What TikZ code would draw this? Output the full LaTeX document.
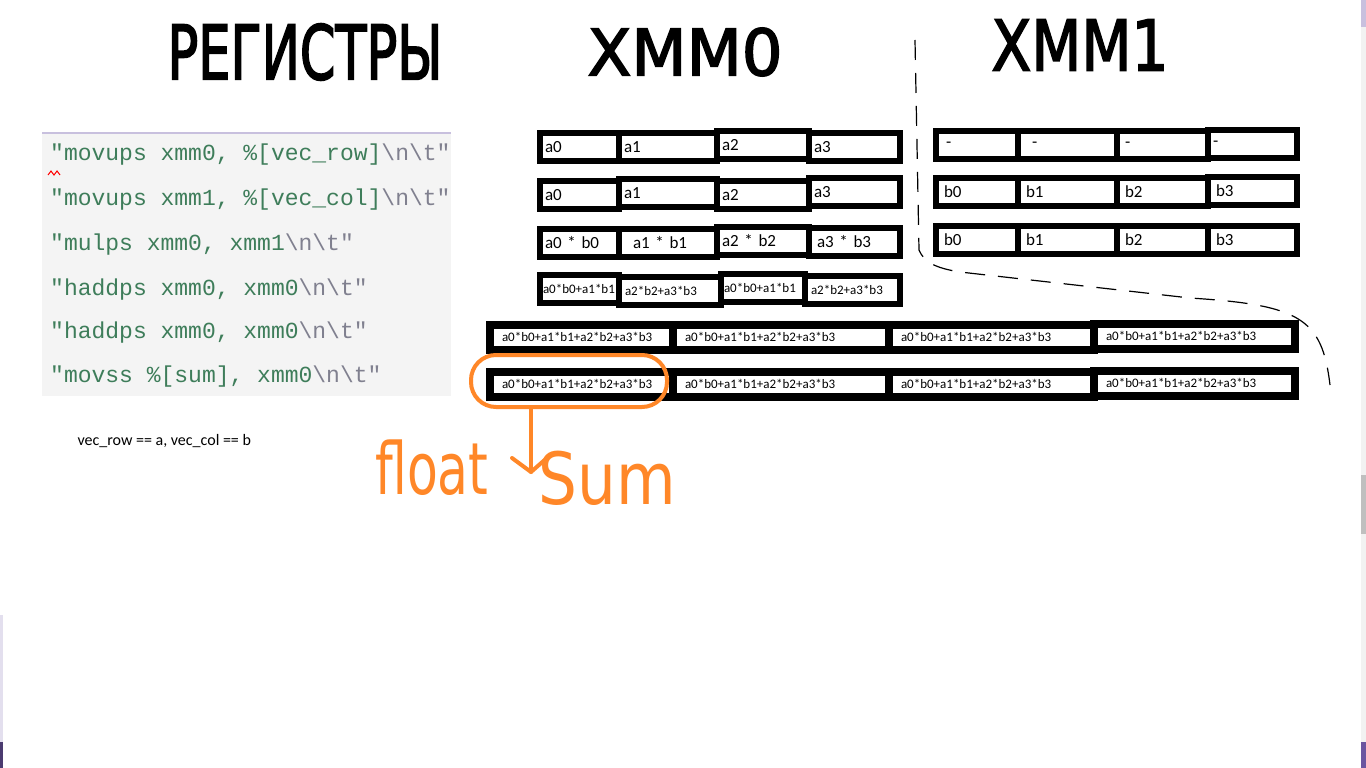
\documentclass[tikz,border=0pt]{standalone}
\usepackage{fontspec}
\usepackage{tikz}
\usetikzlibrary{positioning}

\newfontfamily\handfont{DejaVu Sans}
\newfontfamily\headfont[FakeBold=2.5]{DejaVu Sans}
\newfontfamily\boxfont{Carlito}
\newfontfamily\codefont{Liberation Mono}

\definecolor{codegreen}{RGB}{62,125,90}
\definecolor{codegray}{RGB}{128,128,143}
\definecolor{codebg}{RGB}{244,244,244}
\definecolor{lavline}{RGB}{200,192,222}
\definecolor{markorange}{RGB}{255,135,40}
\definecolor{edgegray}{RGB}{242,242,242}
\definecolor{edgepurple}{RGB}{107,85,160}

\newcommand{\codeend}{\textcolor{codegray}{\textbackslash n\textbackslash t"}}

\tikzset{
  reg/.style={draw, line width=6pt, anchor=west, minimum height=28pt,
    inner xsep=5pt, inner ysep=0pt, text width=#1-10pt, align=left,
    font=\boxfont\fontsize{17}{19}\selectfont},
  smallreg/.style={reg=#1, inner xsep=3pt, text width=#1-6pt,
    font=\boxfont\fontsize{13}{15}\selectfont},
  widereg/.style={reg=#1, line width=8pt, minimum height=25pt,
    inner xsep=12pt, text width=#1-24pt,
    font=\boxfont\fontsize{13}{15}\selectfont},
  head/.style={font=\headfont\fontsize{75}{80}\selectfont},
  codeline/.style={anchor=west, inner sep=0pt, text=codegreen,
    font=\codefont\fontsize{23}{26}\selectfont},
  markline/.style={draw=markorange, line width=4pt, line cap=round, line join=round},
  hand/.style={text=markorange, font=\handfont\fontsize{72}{80}\selectfont},
}

\begin{document}
\begin{tikzpicture}[x=1pt, y=-1pt]

\fill[white] (0,0) rectangle (1366,768);
\useasboundingbox (0,0) rectangle (1366,768);

% screen edges
\fill[edgegray] (1361,0) rectangle (1366,768);
\fill[lavline] (1361,0) rectangle (1366,27);
\fill[black!25] (1361,475) rectangle (1366,534);
\fill[edgepurple] (1361,742) rectangle (1366,768);
\fill[lavline!50] (0,615) rectangle (3,742);
\fill[edgepurple!70!black] (0,742) rectangle (3,768);

% headings
\node[head] (hreg) at (305,52) {\scalebox{0.68}[1]{РЕГИСТРЫ}};
\node[head, font=\headfont\fontsize{64}{70}\selectfont] (hxa) at (685,52) {\scalebox{1.0}[1]{XMM0}};
\node[head, font=\headfont\fontsize{70}{76}\selectfont] (hxb) at (1080,45) {\scalebox{0.83}[1]{XMM1}};

% code
\node[fill=codebg, anchor=north west, inner sep=0pt, minimum width=409pt, minimum height=263pt] (panel) at (42,133) {};
\draw[lavline, line width=1.5pt] (panel.north west) -- (panel.north east);
\node[codeline] (c1) at (50,155) {"movups xmm0, \%[vec\_row]\codeend};
\node[codeline] (c2) at (50,200) {"movups xmm1, \%[vec\_col]\codeend};
\node[codeline] (c3) at (50,245) {"mulps xmm0, xmm1\codeend};
\node[codeline] (c4) at (50,290) {"haddps xmm0, xmm0\codeend};
\node[codeline] (c5) at (50,333) {"haddps xmm0, xmm0\codeend};
\node[codeline] (c6) at (50,377) {"movss \%[sum], xmm0\codeend};
\draw[red, line width=1pt] (48,175) -- (51,171) -- (54,175) -- (57,171) -- (60,175);

\node[anchor=west, font=\boxfont\fontsize{16}{18}\selectfont] (note) at (74,441) {vec\_row == a, vec\_col == b};

% xmm0
\node[reg=79pt] (a0) at (537,147) {a0};
\node[reg=98pt] (a1) at (616,147) {a1};
\node[reg=92pt] (a2) at (714,145) {a2};
\node[reg=91pt] (a3) at (806,147) {a3};

\node[reg=79pt] (a0b) at (537,195) {a0};
\node[reg=98pt] (a1b) at (616,193) {a1};
\node[reg=92pt] (a2b) at (714,195) {a2};
\node[reg=91pt] (a3b) at (806,192) {a3};

\node[reg=79pt] (p0) at (537,243) {a0 * b0};
\node[reg=98pt, inner xsep=14pt, text width=70pt] (p1) at (616,243) {a1 * b1};
\node[reg=92pt] (p2) at (714,241) {a2 * b2};
\node[reg=91pt, inner xsep=8pt, text width=75pt] (p3) at (806,242) {a3 * b3};

\node[smallreg=79pt] (h0) at (537,289) {a0*b0+a1*b1};
\node[smallreg=102pt, inner xsep=6pt, text width=90pt] (h1) at (616,291) {a2*b2+a3*b3};
\node[smallreg=84pt] (h2) at (718,288) {a0*b0+a1*b1};
\node[smallreg=95pt, inner xsep=6pt, text width=83pt] (h3) at (802,290) {a2*b2+a3*b3};

% xmm1
\node[reg=82pt, inner xsep=10pt, text width=62pt] (e0) at (933,145) {-};
\node[reg=99pt, inner xsep=14pt, text width=71pt] (e1) at (1015,145) {-};
\node[reg=91pt, inner xsep=8pt, text width=75pt] (e2) at (1114,145) {-};
\node[reg=89pt] (e3) at (1205,144) {-};

\node[reg=82pt, inner xsep=8pt, text width=66pt] (b0) at (933,192) {b0};
\node[reg=99pt, inner xsep=8pt, text width=83pt] (b1) at (1015,192) {b1};
\node[reg=91pt, inner xsep=8pt, text width=75pt] (b2) at (1114,192) {b2};
\node[reg=89pt, inner xsep=8pt, text width=73pt] (b3) at (1205,191) {b3};

\node[reg=82pt, inner xsep=8pt, text width=66pt] (b0b) at (933,240) {b0};
\node[reg=99pt, inner xsep=8pt, text width=83pt] (b1b) at (1015,240) {b1};
\node[reg=91pt, inner xsep=8pt, text width=75pt] (b2b) at (1114,240) {b2};
\node[reg=89pt, inner xsep=8pt, text width=73pt] (b3b) at (1205,240) {b3};

% sums
\node[widereg=183pt] (s0) at (486,337) {a0*b0+a1*b1+a2*b2+a3*b3};
\node[widereg=216pt] (s1) at (669,337) {a0*b0+a1*b1+a2*b2+a3*b3};
\node[widereg=205pt] (s2) at (885,337) {a0*b0+a1*b1+a2*b2+a3*b3};
\node[widereg=201pt] (s3) at (1090,336) {a0*b0+a1*b1+a2*b2+a3*b3};

\node[widereg=183pt] (t0) at (486,384) {a0*b0+a1*b1+a2*b2+a3*b3};
\node[widereg=216pt] (t1) at (669,384) {a0*b0+a1*b1+a2*b2+a3*b3};
\node[widereg=205pt] (t2) at (885,384) {a0*b0+a1*b1+a2*b2+a3*b3};
\node[widereg=201pt] (t3) at (1090,383) {a0*b0+a1*b1+a2*b2+a3*b3};

% xmm1 border
\draw[line width=1.2pt, dash pattern=on 20pt off 13pt] (915,40) -- (919,250)
  .. controls (924,262) and (935,268) .. (960,272) -- (1190,298)
  .. controls (1300,305) and (1322,318) .. (1330,385);

% result
\node[markline, rounded corners=25pt, minimum width=196pt, minimum height=52pt] (loop) at (569,381) {};
\coordinate (tip) at (531,472);
\draw[markline] ([xshift=-38pt]loop.south) -- (tip);
\draw[markline] (512,458) -- (tip) -- (548,457);
\node[hand] (flt) at (432,468) {\scalebox{0.7}[1]{float}};
\node[hand] (sum) at (607,478) {\scalebox{0.85}[1]{Sum}};

\end{tikzpicture}
\end{document}
